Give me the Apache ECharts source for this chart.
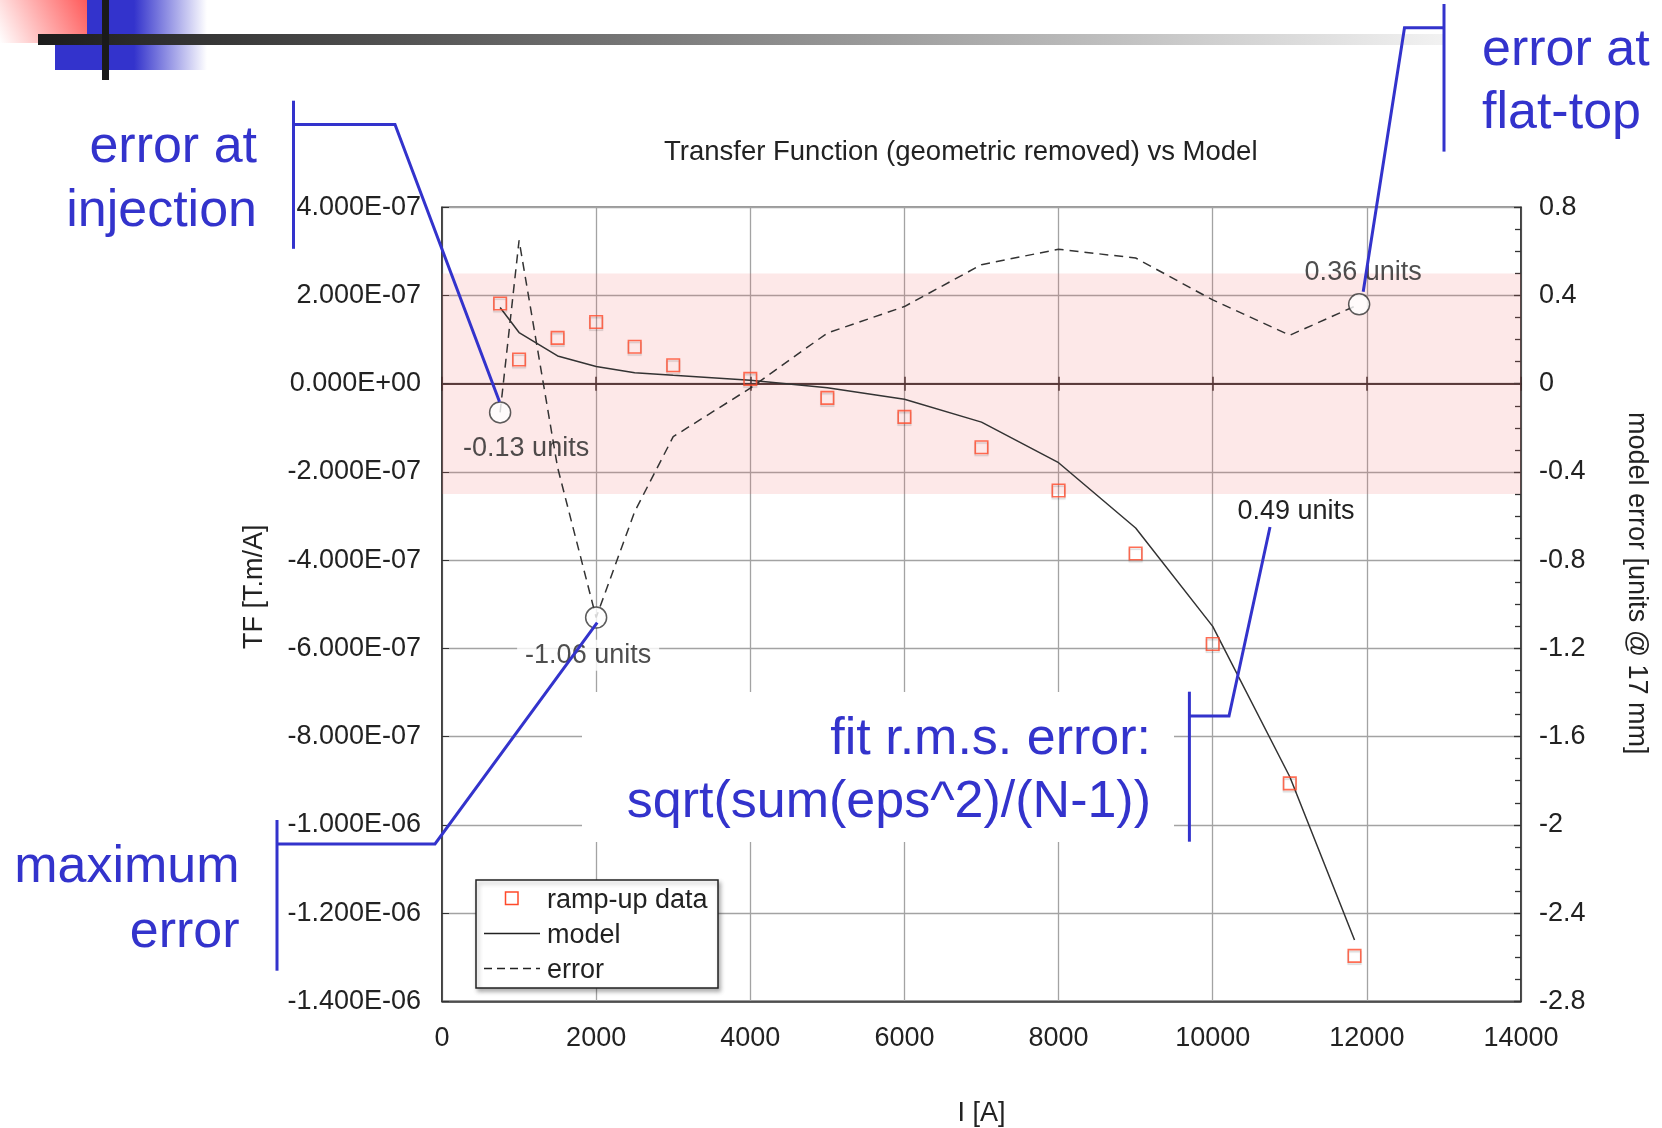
<!DOCTYPE html>
<html><head><meta charset="utf-8">
<script src="https://cdn.jsdelivr.net/npm/echarts@6/dist/echarts.min.js"></script>
<style>html,body{margin:0;padding:0;background:#fff}#c{width:1662px;height:1128px}</style>
</head><body><div id="c"></div>
<script>
// ---------------- data ----------------
const currentA      = [754, 1000, 1500, 2000, 2500, 3000, 4000, 5000, 6000, 7000, 8000, 9000, 10000, 11000, 11840];
// transfer function in units of 1e-7 T.m/A
const rampUpTF      = [1.82, 0.55, 1.04, 1.40, 0.84, 0.42, 0.11, -0.32, -0.75, -1.44, -2.42, -3.85, -5.90, -9.06, -12.97];
const modelTF       = [1.73, 1.16, 0.63, 0.39, 0.25, 0.19, 0.08, -0.09, -0.35, -0.87, -1.79, -3.27, -5.50, -8.91, -12.61];
const errorCurrentA = [754, 1000, 1500, 2000, 2500, 3000, 4000, 5000, 6000, 7000, 8000, 9000, 10000, 11000, 11900];
const errorUnits    = [-0.13, 0.65, -0.38, -1.06, -0.58, -0.24, -0.02, 0.23, 0.35, 0.54, 0.61, 0.57, 0.38, 0.22, 0.36];
const markedIndex   = [0, 3, 14];
const markedText    = ['-0.13 units', '-1.06 units', '0.36 units'];
const toleranceBand = [-0.5, 0.5];
const xRange        = [0, 14000, 2000];
const leftRange     = [-14, 4, 2];      // x 1e-7
const rightRange    = [-2.8, 0.8, 0.4];
const rmsLabel      = '0.49 units';
const seriesNames   = ['ramp-up data', 'model', 'error'];

// ---------------- helpers ----------------
const FONT = '"Liberation Sans", Arial, Helvetica, sans-serif';
const BLUE = '#3333cc';
const INK = '#222';
function sci(v) {
  const x = Math.abs(v) < 1e-9 ? 0 : v * 1e-7;
  const s = x.toExponential(3);
  const parts = s.split('e');
  const sign = parts[1][0] === '-' ? '-' : '+';
  let d = parts[1].replace(/^[+-]/, '');
  if (d.length < 2) d = '0' + d;
  return parts[0] + 'E' + sign + d;
}
const pair = (xs, ys) => xs.map((x, i) => [x, ys[i]]);

const markLabelCfg = [
  { position: 'bottom', distance: 11, offset: [26, 0] },
  { position: 'bottom', distance: 11, offset: [-8, 0], backgroundColor: '#fff', padding: [2, 8] },
  { position: 'top', distance: 7, offset: [4, 0] }
];
const markedData = markedIndex.map((idx, k) => ({
  value: [errorCurrentA[idx], errorUnits[idx]],
  label: Object.assign({ show: true, formatter: markedText[k], fontSize: 27, color: INK, fontFamily: FONT }, markLabelCfg[k])
}));

function line(points, extra) {
  return Object.assign({ type: 'polyline', z: 10, silent: true,
    shape: { points: points }, style: { stroke: BLUE, lineWidth: 3, fill: null } }, extra || {});
}
function blueText(x, y, text, align, lh) {
  return { type: 'text', x: x, y: y, z: 10, silent: true,
    style: { text: text, fill: BLUE, font: '52px ' + FONT, align: align, verticalAlign: 'middle', lineHeight: lh } };
}

const graphics = [
  // slide decoration
  { type: 'rect', z: 0, silent: true, shape: { x: 55, y: 0, width: 152, height: 70 },
    style: { fill: new echarts.graphic.LinearGradient(0, 0, 1, 0, [
      { offset: 0, color: '#3333cc' }, { offset: 0.52, color: '#3333cc' }, { offset: 1, color: '#ffffff' }]) } },
  { type: 'rect', z: 0, silent: true, shape: { x: 0, y: 0, width: 87, height: 43 },
    style: { fill: new echarts.graphic.LinearGradient(1, 0, 0, 1, [
      { offset: 0, color: '#ff5a5a' }, { offset: 1, color: '#ffffff' }]) } },
  { type: 'rect', z: 0, silent: true, shape: { x: 38, y: 34, width: 1406, height: 11 },
    style: { fill: new echarts.graphic.LinearGradient(0, 0, 1, 0, [
      { offset: 0, color: '#1c1c1c' }, { offset: 1, color: '#f2f2f2' }]) } },
  { type: 'rect', z: 0, silent: true, shape: { x: 102, y: 0, width: 7, height: 80 }, style: { fill: '#1a1a1a' } },

  // white box behind the rms annotation
  { type: 'rect', z: 1, silent: true, shape: { x: 582, y: 692, width: 592, height: 150 }, style: { fill: '#fff' } },

  // rms value
  { type: 'text', x: 1296, y: 512, z: 5, silent: true,
    style: { text: rmsLabel, fill: INK, font: '27px ' + FONT, align: 'center', verticalAlign: 'middle' } },

  // legend
  { type: 'rect', z: 5, silent: true, shape: { x: 476, y: 880, width: 242, height: 108 },
    style: { fill: '#fff', stroke: '#222', lineWidth: 1.5, shadowColor: 'rgba(0,0,0,0.3)', shadowBlur: 4, shadowOffsetX: 2, shadowOffsetY: 3 } },
  { type: 'rect', z: 6, silent: true, shape: { x: 505.5, y: 892, width: 12.5, height: 12.5 },
    style: { fill: null, stroke: '#ff4a2a', lineWidth: 1.5 } },
  { type: 'line', z: 6, silent: true, shape: { x1: 484, y1: 933.5, x2: 540, y2: 933.5 }, style: { stroke: '#222', lineWidth: 1.5 } },
  { type: 'line', z: 6, silent: true, shape: { x1: 484, y1: 968.5, x2: 540, y2: 968.5 }, style: { stroke: '#222', lineWidth: 1.5, lineDash: [8, 5] } },
  { type: 'text', x: 547, y: 900.5, z: 6, silent: true, style: { text: seriesNames[0], fill: INK, font: '27px ' + FONT, verticalAlign: 'middle' } },
  { type: 'text', x: 547, y: 935.5, z: 6, silent: true, style: { text: seriesNames[1], fill: INK, font: '27px ' + FONT, verticalAlign: 'middle' } },
  { type: 'text', x: 547, y: 970.5, z: 6, silent: true, style: { text: seriesNames[2], fill: INK, font: '27px ' + FONT, verticalAlign: 'middle' } },

  // annotations
  blueText(257, 179.5, 'error at\ninjection', 'right', 63.5),
  line([[293.5, 100.7], [293.5, 248.8]]),
  line([[293.5, 124.4], [395, 124.4], [499.5, 401.7]]),

  blueText(1482, 82, 'error at\nflat-top', 'left', 63.5),
  line([[1444, 4], [1444, 151.6]]),
  line([[1444, 27.7], [1404.5, 27.7], [1363.2, 291.7]]),

  blueText(239.5, 900.5, 'maximum\nerror', 'right', 65),
  line([[277, 820], [277, 970.7]]),
  line([[277, 844], [435, 844], [597.2, 622.7]]),

  blueText(1151, 771, 'fit r.m.s. error:\nsqrt(sum(eps^2)/(N-1))', 'right', 63.3),
  line([[1189.4, 691.7], [1189.4, 841.7]]),
  line([[1189.4, 716], [1229, 716], [1270, 527]])
];

const baseX = { type: 'value', min: xRange[0], max: xRange[1], interval: xRange[2] };

const option = {
  animation: false,
  backgroundColor: '#fff',
  textStyle: { fontFamily: FONT },
  title: {
    text: 'Transfer Function (geometric removed) vs Model',
    left: 664, top: 138.5, padding: 0,
    textStyle: { fontSize: 27.5, fontWeight: 'normal', color: INK, fontFamily: FONT }
  },
  grid: { left: 442, right: 141, top: 207.3, bottom: 126.7, outerBoundsMode: 'none', containLabel: false,
    show: true, borderColor: '#333', borderWidth: 1.5, backgroundColor: 'transparent' },
  xAxis: [
    Object.assign({}, baseX, {
      position: 'bottom',
      name: 'I [A]', nameLocation: 'middle', nameGap: 99,
      nameTextStyle: { fontSize: 27, color: INK, fontFamily: FONT },
      axisLine: { onZero: false, lineStyle: { color: '#333', width: 1.5 } },
      axisTick: { show: false },
      axisLabel: { fontSize: 27, color: INK, margin: 24, fontFamily: FONT, formatter: v => String(v) },
      splitLine: { show: true, lineStyle: { color: '#a3a3a3', width: 1.3 } }
    }),
    Object.assign({}, baseX, {
      position: 'bottom',
      axisLine: { onZero: true, onZeroAxisIndex: 0, lineStyle: { color: '#3a2c2c', width: 1.5 } },
      axisTick: { show: true, inside: true, length: 7, lineStyle: { color: '#3a2c2c', width: 1.5 } },
      axisLabel: { show: false }, splitLine: { show: false }
    }),
    Object.assign({}, baseX, {
      position: 'bottom',
      axisLine: { onZero: true, onZeroAxisIndex: 0, lineStyle: { color: '#3a2c2c', width: 1.5 } },
      axisTick: { show: true, inside: false, length: 7, lineStyle: { color: '#3a2c2c', width: 1.5 } },
      axisLabel: { show: false }, splitLine: { show: false }
    })
  ],
  yAxis: [
    {
      type: 'value', position: 'left', min: leftRange[0], max: leftRange[1], interval: leftRange[2],
      name: 'TF [T.m/A]', nameLocation: 'middle', nameGap: 174,
      nameTextStyle: { fontSize: 27, color: INK, fontFamily: FONT, padding: [0, 0, 0, 35] },
      axisLine: { onZero: false, lineStyle: { color: '#333', width: 1.5 } },
      axisTick: { show: true, inside: true, length: 7, lineStyle: { color: '#333' } },
      axisLabel: { fontSize: 27, color: INK, margin: 21, formatter: sci, fontFamily: FONT },
      splitLine: { show: true, lineStyle: { color: '#a3a3a3', width: 1.3 } }
    },
    {
      type: 'value', position: 'right', min: rightRange[0], max: rightRange[1], interval: rightRange[2],
      name: 'model error [units @ 17 mm]', nameLocation: 'middle', nameGap: 102, nameRotate: -90,
      nameTextStyle: { fontSize: 27, color: INK, fontFamily: FONT, padding: [0, 42, 0, 0] },
      axisLine: { onZero: false, lineStyle: { color: '#333', width: 1.5 } },
      axisTick: { show: true, inside: true, length: 7, lineStyle: { color: '#333', width: 1.3 } },
      minorTick: { show: true, splitNumber: 4, length: 6, lineStyle: { color: '#333', width: 1.3 } },
      axisLabel: { fontSize: 27, color: INK, margin: 18, fontFamily: FONT },
      splitLine: { show: false }
    }
  ],
  graphic: graphics,
  series: [
    {
      name: seriesNames[2], type: 'line', xAxisIndex: 0, yAxisIndex: 1, z: 2,
      data: pair(errorCurrentA, errorUnits), showSymbol: false, symbol: 'none',
      lineStyle: { color: '#333', width: 1.5, type: [9, 6] },
      markArea: {
        silent: true, label: { show: false },
        itemStyle: { color: 'rgba(240,100,100,0.15)' },
        data: [[{ yAxis: toleranceBand[1] }, { yAxis: toleranceBand[0] }]]
      }
    },
    {
      name: seriesNames[1], type: 'line', xAxisIndex: 0, yAxisIndex: 0, z: 3,
      data: pair(currentA, modelTF), showSymbol: false, symbol: 'none',
      lineStyle: { color: '#333', width: 1.5 }
    },
    {
      name: seriesNames[0], type: 'scatter', xAxisIndex: 0, yAxisIndex: 0, z: 4,
      data: pair(currentA, rampUpTF), symbol: 'rect', symbolSize: 12.5,
      itemStyle: { color: 'rgba(0,0,0,0)', borderColor: '#ff4a2a', borderWidth: 1.6,
        shadowColor: 'rgba(0,0,0,0.18)', shadowOffsetY: 2, shadowBlur: 1 }
    },
    {
      name: 'error markers', type: 'scatter', xAxisIndex: 0, yAxisIndex: 1, z: 5,
      data: markedData, symbol: 'circle', symbolSize: 21,
      itemStyle: { color: '#fff', borderColor: '#333', borderWidth: 1.5 }
    }
  ]
};

const chart = echarts.init(document.getElementById('c'), null, { renderer: 'canvas' });
chart.setOption(option);
</script>
</body></html>
